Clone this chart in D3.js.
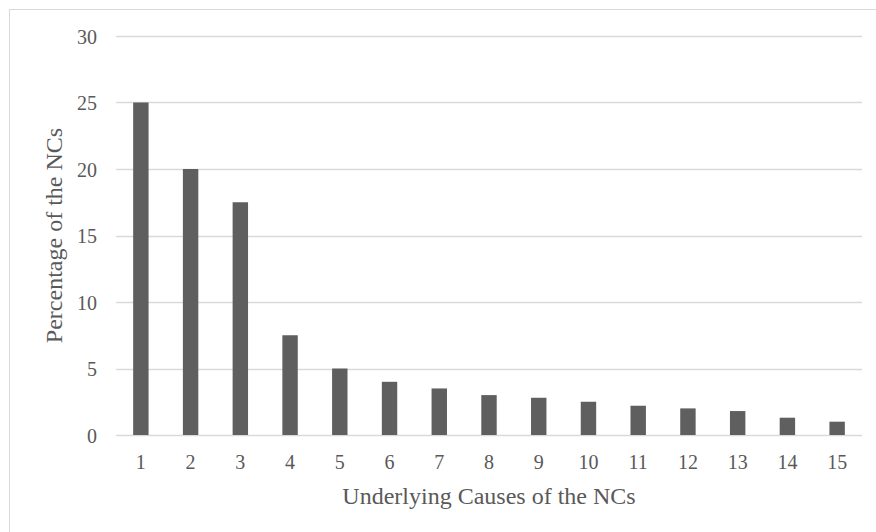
<!DOCTYPE html>
<html>
<head>
<meta charset="utf-8">
<script src="https://cdn.jsdelivr.net/npm/d3@7"></script>
<style>
  html, body { margin: 0; padding: 0; background: #fff; }
  svg { display: block; }
</style>
</head>
<body>
<svg id="chart" width="876" height="532"></svg>
<script>
const categories = ["1","2","3","4","5","6","7","8","9","10","11","12","13","14","15"];
const values = [25, 20, 17.5, 7.5, 5, 4, 3.5, 3, 2.8, 2.5, 2.2, 2, 1.8, 1.3, 1];
const yTicks = [0, 5, 10, 15, 20, 25, 30];
const xTitle = "Underlying Causes of the NCs";
const yTitle = "Percentage of the NCs";

const svg = d3.select("#chart");
const W = 876, H = 532;
const m = { left: 116, right: 14, top: 36, bottom: 97 };

svg.append("rect")
  .attr("x", 9.5).attr("y", 9.5)
  .attr("width", W).attr("height", H)
  .attr("fill", "#fff").attr("stroke", "#d9d9d9");

const x = d3.scaleBand().domain(categories)
  .range([m.left, W - m.right]).paddingInner(0.69).paddingOuter(0.345);
const y = d3.scaleLinear().domain([0, 30]).range([H - m.bottom, m.top]);

const font = "'Liberation Serif', 'Times New Roman', serif";

// gridlines
svg.append("g").selectAll("line").data(yTicks).join("line")
  .attr("x1", m.left).attr("x2", W - m.right)
  .attr("y1", d => Math.round(y(d)) + 0.5).attr("y2", d => Math.round(y(d)) + 0.5)
  .attr("stroke", "#d9d9d9").attr("stroke-width", 1.3);

// bars
svg.append("g").selectAll("rect").data(values).join("rect")
  .attr("x", (d, i) => x(categories[i]))
  .attr("width", x.bandwidth())
  .attr("y", d => y(d))
  .attr("height", d => y(0) - y(d))
  .attr("fill", "#5f5f5f");

// y axis labels
const yAxis = d3.axisLeft(y).tickValues(yTicks).tickSize(0).tickPadding(0).tickFormat(d3.format("d"));
const gy = svg.append("g").attr("transform", `translate(${m.left - 19},0)`).call(yAxis);
gy.select(".domain").remove();
gy.selectAll("text").attr("font-family", font).attr("font-size", 20).attr("fill", "#595959").attr("dy", "0.35em");

// x axis labels
const xAxis = d3.axisBottom(x).tickSize(0).tickPadding(0);
const gx = svg.append("g").attr("transform", `translate(0,${H - m.bottom + 34})`).call(xAxis);
gx.select(".domain").remove();
gx.selectAll("text").attr("font-family", font).attr("font-size", 20).attr("fill", "#595959").attr("dy", "0");

// titles
svg.append("text")
  .attr("x", (m.left + W - m.right) / 2).attr("y", 504)
  .attr("text-anchor", "middle")
  .attr("font-family", font).attr("font-size", 24).attr("fill", "#595959")
  .text(xTitle);

svg.append("text")
  .attr("transform", `translate(62,${(y(0) + y(30)) / 2}) rotate(-90)`)
  .attr("text-anchor", "middle")
  .attr("font-family", font).attr("font-size", 24).attr("fill", "#595959")
  .text(yTitle);
</script>
</body>
</html>
